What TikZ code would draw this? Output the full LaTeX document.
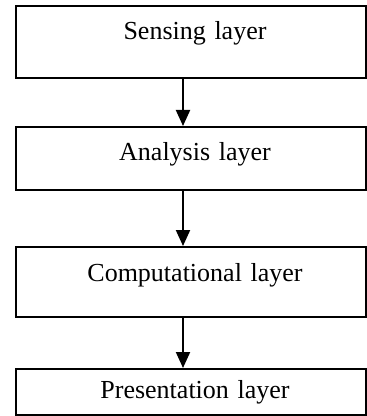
\documentclass[tikz,border=0pt]{standalone}
\usepackage{fontspec}
\setmainfont{Liberation Serif}
\usetikzlibrary{arrows.meta}
\tikzset{
  layerbox/.style={draw, line width=1pt, rectangle, anchor=north west, inner sep=0pt,
    minimum width=175pt, text width=175pt, align=center,
    font=\fontsize{13}{15}\selectfont},
  flowarrow/.style={draw, line width=1pt, -{Triangle[width=7pt,length=8pt]}}
}
\begin{document}
\begin{tikzpicture}[x=0.5pt,y=-0.5pt]
\useasboundingbox (0,0) rectangle (367,416);
\clip (0,0) rectangle (367,416);
\node[layerbox, minimum height=36pt, text height=17pt, text depth=19pt] (sens) at (15,5) {\hspace*{4pt}Sensing layer};
\node[layerbox, minimum height=31.5pt, text height=17pt, text depth=14.5pt] (anal) at (15,126) {\hspace*{4pt}Analysis layer};
\node[layerbox, minimum height=35pt, text height=17pt, text depth=18pt] (comp) at (15,246) {\hspace*{4pt}Computational layer};
\node[layerbox, minimum height=23pt, text height=14.5pt, text depth=8.5pt] (pres) at (15,368) {\hspace*{4pt}Presentation layer};
\coordinate (ax) at (183,0);
\draw[flowarrow] (sens.south -| ax) -- (anal.north -| ax);
\draw[flowarrow] (anal.south -| ax) -- (comp.north -| ax);
\draw[flowarrow] (comp.south -| ax) -- (pres.north -| ax);
\end{tikzpicture}
\end{document}
